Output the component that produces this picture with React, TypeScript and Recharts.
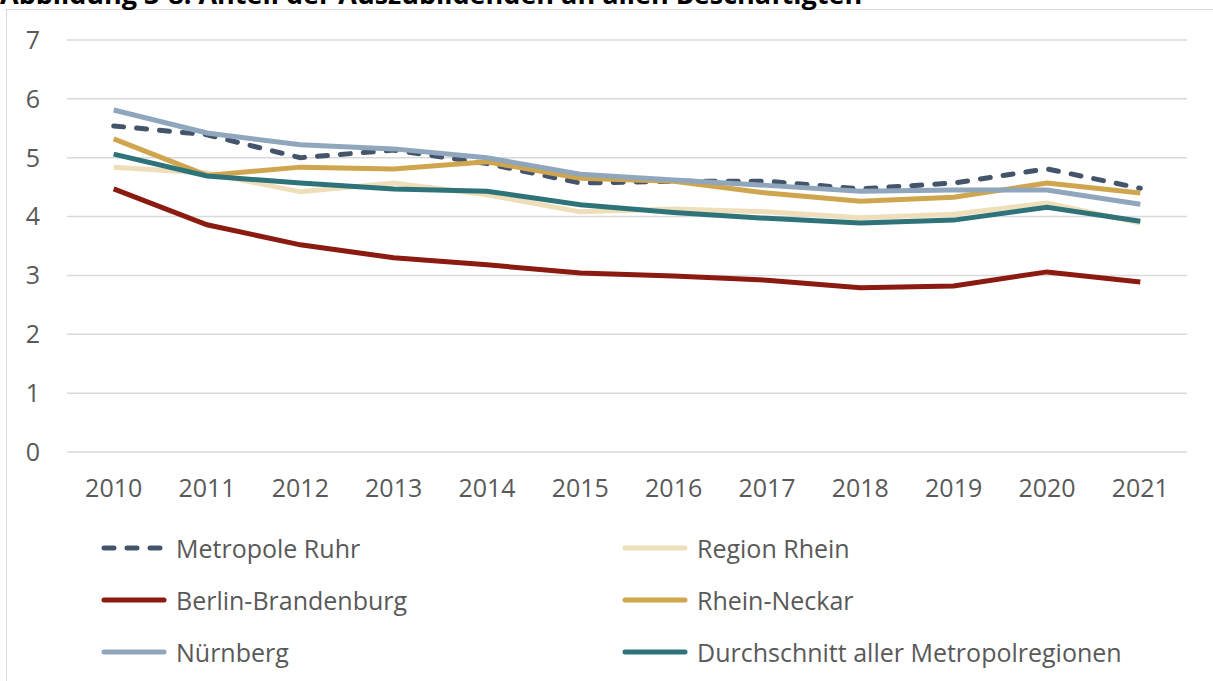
import React from "react";
import { LineChart, Line, XAxis, YAxis, CartesianGrid, Legend } from "recharts";

const years = ["2010", "2011", "2012", "2013", "2014", "2015", "2016", "2017", "2018", "2019", "2020", "2021"];
const metropoleRuhr = [5.54, 5.39, 5.0, 5.13, 4.9, 4.57, 4.6, 4.6, 4.47, 4.57, 4.81, 4.48];
const regionRhein = [4.84, 4.74, 4.42, 4.57, 4.37, 4.08, 4.13, 4.08, 3.98, 4.04, 4.23, 3.89];
const berlinBrandenburg = [4.47, 3.86, 3.52, 3.3, 3.18, 3.04, 2.99, 2.92, 2.79, 2.82, 3.06, 2.89];
const rheinNeckar = [5.32, 4.7, 4.84, 4.81, 4.93, 4.65, 4.6, 4.4, 4.26, 4.33, 4.57, 4.4];
const nuernberg = [5.81, 5.42, 5.22, 5.15, 5.0, 4.72, 4.62, 4.53, 4.43, 4.45, 4.45, 4.21];
const durchschnitt = [5.06, 4.69, 4.57, 4.47, 4.43, 4.2, 4.07, 3.97, 3.89, 3.94, 4.16, 3.92];
const yTicks = [0, 1, 2, 3, 4, 5, 6, 7];
const legendOrder = [
  "Metropole Ruhr",
  "Region Rhein",
  "Berlin-Brandenburg",
  "Rhein-Neckar",
  "Nürnberg",
  "Durchschnitt aller Metropolregionen",
];

const data = years.map((year, i) => ({
  year,
  ruhr: metropoleRuhr[i],
  rhein: regionRhein[i],
  berlin: berlinBrandenburg[i],
  neckar: rheinNeckar[i],
  nuernberg: nuernberg[i],
  avg: durchschnitt[i],
}));

const FONT = "'Open Sans', sans-serif";
const TEXT = "#595959";

function LegendBox({ payload }: any) {
  const items = [...(payload || [])].sort(
    (a: any, b: any) => legendOrder.indexOf(a.value) - legendOrder.indexOf(b.value)
  );
  return (
    <div style={{ position: "relative", width: 1213, height: 169 }}>
      {items.map((it: any, i: number) => {
        const col = i % 2;
        const row = Math.floor(i / 2);
        const lx = col === 0 ? 100 : 621;
        const cy = 36 + row * 52;
        const dash = it.payload && it.payload.strokeDasharray;
        return (
          <div key={it.value} style={{ position: "absolute", left: lx, top: cy - 17, height: 34, display: "flex", alignItems: "center" }}>
            <svg width={68} height={10} style={{ marginRight: 8 }}>
              <line x1={4} y1={5} x2={64} y2={5} stroke={it.color} strokeWidth={5} strokeLinecap="round" strokeDasharray={dash ? "10 13" : undefined} />
            </svg>
            <span style={{ fontFamily: FONT, fontSize: 25, color: TEXT, whiteSpace: "nowrap" }}>{it.value}</span>
          </div>
        );
      })}
    </div>
  );
}

export default function App() {
  return (
    <div style={{ position: "absolute", left: 0, top: 0, width: 1213, height: 681, overflow: "hidden", background: "#fff" }}>
      <div style={{ position: "absolute", left: 6, top: 9, width: 1300, height: 800, border: "1.5px solid #d9d9d9" }} />
      <div style={{ position: "absolute", left: 0, top: -25, fontFamily: FONT, fontWeight: 700, fontSize: 27, color: "#000", whiteSpace: "nowrap" }}>
        Abbildung 3-8: Anteil der Auszubildenden an allen Beschäftigten
      </div>
      <div style={{ position: "absolute", left: 0, top: 0 }}>
        <LineChart width={1213} height={681} data={data} margin={{ top: 40, right: 26, left: 0, bottom: 0 }}>
          <CartesianGrid vertical={false} stroke="#d9d9d9" strokeWidth={1.5} />
          <XAxis
            dataKey="year"
            axisLine={false}
            tickLine={false}
            tickSize={0}
            tickMargin={27}
            height={60}
            padding={{ left: 46.7, right: 46.7 }}
            tick={{ fill: TEXT, fontSize: 25, fontFamily: FONT }}
          />
          <YAxis
            domain={[0, 7]}
            ticks={yTicks}
            axisLine={false}
            tickLine={false}
            tickSize={0}
            tickMargin={27}
            width={67}
            tick={{ fill: TEXT, fontSize: 25, fontFamily: FONT }}
          />
          <Legend verticalAlign="bottom" height={169} wrapperStyle={{ left: 0, width: 1213 }} content={<LegendBox />} />
          <Line name="Metropole Ruhr" dataKey="ruhr" stroke="#44546A" strokeWidth={5} strokeDasharray="10 13" strokeLinecap="round" dot={false} isAnimationActive={false} />
          <Line name="Region Rhein" dataKey="rhein" stroke="#EEDFBA" strokeWidth={5} dot={false} isAnimationActive={false} />
          <Line name="Berlin-Brandenburg" dataKey="berlin" stroke="#8B1A10" strokeWidth={5} dot={false} isAnimationActive={false} />
          <Line name="Rhein-Neckar" dataKey="neckar" stroke="#CFA64E" strokeWidth={5} dot={false} isAnimationActive={false} />
          <Line name="Nürnberg" dataKey="nuernberg" stroke="#8FA6BC" strokeWidth={5} dot={false} isAnimationActive={false} />
          <Line name="Durchschnitt aller Metropolregionen" dataKey="avg" stroke="#2E7379" strokeWidth={5} dot={false} isAnimationActive={false} />
        </LineChart>
      </div>
    </div>
  );
}
